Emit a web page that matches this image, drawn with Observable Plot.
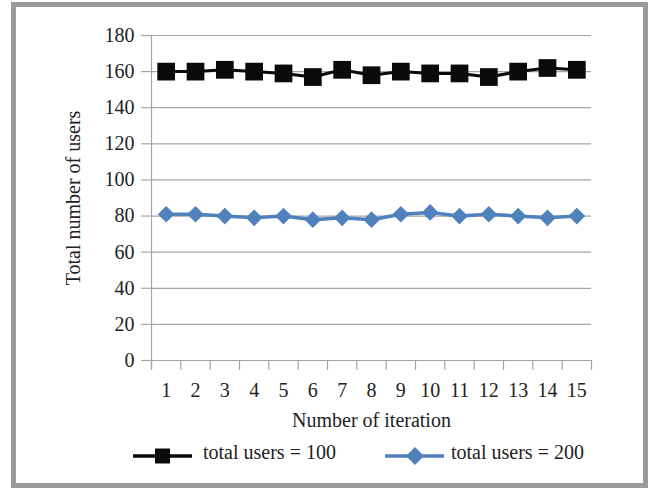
<!DOCTYPE html>
<html>
<head>
<meta charset="utf-8">
<script src="https://cdn.jsdelivr.net/npm/d3@7"></script>
<script src="https://cdn.jsdelivr.net/npm/@observablehq/plot@0.6"></script>
<style>
  body { margin: 0; background: #fff; width: 654px; height: 488px; overflow: hidden; position: relative; }
  #frame { position: absolute; left: 11px; top: 2px; width: 627px; height: 476px; border: 5px solid #9b9b9b; }
  #chart { position: absolute; left: 0; top: 0; }
  .leg { position: absolute; font-family: "Liberation Serif", Tinos, "Times New Roman", "Nimbus Roman", "DejaVu Serif", serif; font-size: 20px; color: #222; white-space: nowrap; }
  .sw { position: absolute; }
</style>
</head>
<body>
<div id="frame"></div>
<div id="chart"></div>
<svg class="sw" style="left:130px;top:444px" width="66" height="24" id="sw1"></svg>
<div class="leg" style="left:203px;top:441px">total users = 100</div>
<svg class="sw" style="left:382px;top:444px" width="66" height="24" id="sw2"></svg>
<div class="leg" style="left:451px;top:441px">total users = 200</div>
<script>
// Data
const iterations = [1, 2, 3, 4, 5, 6, 7, 8, 9, 10, 11, 12, 13, 14, 15];
const users100 = [160, 160, 161, 160, 159, 157, 161, 158, 160, 159, 159, 157, 160, 162, 161];
const users200 = [81, 81, 80, 79, 80, 78, 79, 78, 81, 82, 80, 81, 80, 79, 80];
const yTicks = [0, 20, 40, 60, 80, 100, 120, 140, 160, 180];
const seriesNames = ["total users = 100", "total users = 200"];
const colors = ["#0a0a0a", "#4f81bd"];

const xBounds = [...iterations.map(d => d - 0.5), iterations[iterations.length - 1] + 0.5];
const rows1 = iterations.map((it, i) => ({it, v: users100[i]}));
const rows2 = iterations.map((it, i) => ({it, v: users200[i]}));
const gray = "#a6a6a6";

const chart = Plot.plot({
  width: 654,
  height: 430,
  marginLeft: 151,
  marginRight: 63,
  marginTop: 35,
  marginBottom: 70,
  style: {fontFamily: "'Liberation Serif', Tinos, 'Times New Roman', 'Nimbus Roman', 'DejaVu Serif', serif", fontSize: "20px", color: "#222", background: "transparent"},
  x: {domain: [0.5, 15.5]},
  y: {domain: [0, 180]},
  marks: [
    Plot.gridY(yTicks, {stroke: gray, strokeOpacity: 1, strokeWidth: 1.2}),
    Plot.ruleX([0.5], {stroke: gray, strokeWidth: 1.2, insetBottom: -10}),
    Plot.ruleY([0], {stroke: gray, strokeWidth: 1.2, insetLeft: -10}),
    Plot.axisY(yTicks, {tickSize: 10, tickPadding: 7, stroke: gray, strokeWidth: 1.2, fill: "#222",
      label: "Total number of users", labelAnchor: "center", labelOffset: 86, labelArrow: "none"}),
    Plot.axisX(xBounds, {tickSize: 10, stroke: gray, strokeWidth: 1.2, tickFormat: () => "", label: null}),
    Plot.axisX(iterations, {tickSize: 0, tickPadding: 22, fill: "#222",
      label: "Number of iteration", labelAnchor: "center", labelOffset: 66, labelArrow: "none"}),
    Plot.line(rows2, {x: "it", y: "v", stroke: colors[1], strokeWidth: 3.5}),
    Plot.dot(rows2, {x: "it", y: "v", symbol: "diamond2", r: 7.5, fill: colors[1], stroke: null}),
    Plot.line(rows1, {x: "it", y: "v", stroke: colors[0], strokeWidth: 3}),
    Plot.dot(rows1, {x: "it", y: "v", symbol: "square", r: 10, fill: colors[0], stroke: null})
  ]
});
document.getElementById("chart").appendChild(chart);

// Legend swatches
const ns = "http://www.w3.org/2000/svg";
function swatch(id, color, shape, lw) {
  const s = document.getElementById(id);
  const l = document.createElementNS(ns, "line");
  l.setAttribute("x1", 3); l.setAttribute("x2", 62); l.setAttribute("y1", 12); l.setAttribute("y2", 12);
  l.setAttribute("stroke", color); l.setAttribute("stroke-width", lw);
  s.appendChild(l);
  const p = document.createElementNS(ns, "path");
  p.setAttribute("fill", color);
  p.setAttribute("d", shape === "square" ? "M25,4.5H40V19.5H25Z" : "M33,3L42,12L33,21L24,12Z");
  s.appendChild(p);
}
swatch("sw1", colors[0], "square", 3.5);
swatch("sw2", colors[1], "diamond", 3.5);
</script>
</body>
</html>
